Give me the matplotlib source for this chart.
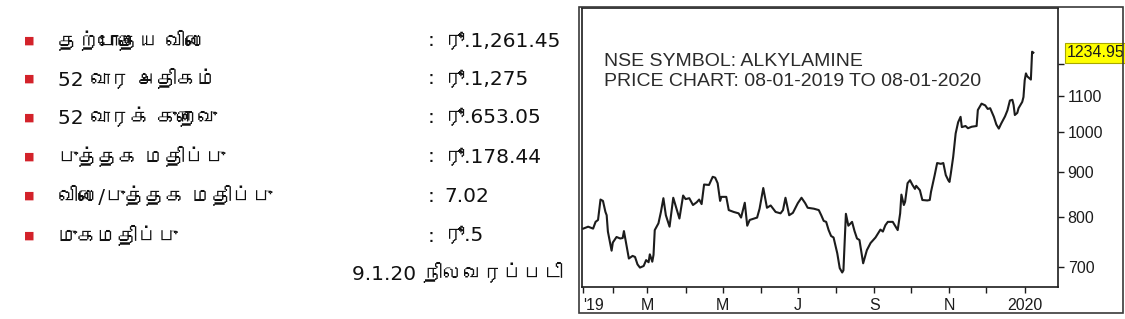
import matplotlib
matplotlib.use("Agg")
import matplotlib.pyplot as plt
import matplotlib.dates as mdates
import matplotlib.transforms as mtransforms
from matplotlib import font_manager, ft2font
from matplotlib.patches import Rectangle
from matplotlib.ticker import FixedLocator, NullLocator

# ---- left panel (Tamil key figures) ----
row_labels = [
    "தற்போதைய விலை",
    "52 வார அதிகம்",
    "52 வாரக் குறைவு",
    "புத்தக மதிப்பு",
    "விலை/புத்தக மதிப்பு",
    "முகமதிப்பு",
]
row_values = ["ரூ.1,261.45", "ரூ.1,275", "ரூ.653.05", "ரூ.178.44", "7.02", "ரூ.5"]
as_of_text = "9.1.20 நிலவரப்படி"

# ---- price chart ----
title_lines = ["NSE SYMBOL: ALKYLAMINE", "PRICE CHART: 08-01-2019 TO 08-01-2020"]
last_price = 1234.95

price_dates = [
    "2019-01-08", "2019-01-12", "2019-01-16", "2019-01-18", "2019-01-20", "2019-01-22",
    "2019-01-24", "2019-01-26", "2019-01-27", "2019-01-28", "2019-01-31", "2019-02-01",
    "2019-02-04", "2019-02-07", "2019-02-09", "2019-02-10", "2019-02-12", "2019-02-14",
    "2019-02-17", "2019-02-19", "2019-02-21", "2019-02-23", "2019-02-26", "2019-02-28",
    "2019-03-02", "2019-03-03", "2019-03-05", "2019-03-06", "2019-03-07", "2019-03-10",
    "2019-03-12", "2019-03-14", "2019-03-16", "2019-03-19", "2019-03-22", "2019-03-25",
    "2019-03-27", "2019-03-30", "2019-04-01", "2019-04-04", "2019-04-07", "2019-04-10",
    "2019-04-12", "2019-04-14", "2019-04-16", "2019-04-20", "2019-04-23", "2019-04-25",
    "2019-04-27", "2019-04-29", "2019-04-30", "2019-05-04", "2019-05-06", "2019-05-10",
    "2019-05-14", "2019-05-16", "2019-05-19", "2019-05-21", "2019-05-23", "2019-05-29",
    "2019-05-31", "2019-06-03", "2019-06-06", "2019-06-09", "2019-06-13", "2019-06-17",
    "2019-06-19", "2019-06-21", "2019-06-24", "2019-06-27", "2019-07-01", "2019-07-04",
    "2019-07-07", "2019-07-09", "2019-07-14", "2019-07-18", "2019-07-20", "2019-07-22",
    "2019-07-24", "2019-07-26", "2019-07-28", "2019-07-30", "2019-08-02", "2019-08-04",
    "2019-08-06", "2019-08-07", "2019-08-09", "2019-08-11", "2019-08-14", "2019-08-16",
    "2019-08-18", "2019-08-20", "2019-08-23", "2019-08-24", "2019-08-26", "2019-08-29",
    "2019-09-02", "2019-09-04", "2019-09-06", "2019-09-08", "2019-09-10", "2019-09-12",
    "2019-09-16", "2019-09-19", "2019-09-20", "2019-09-22", "2019-09-23", "2019-09-25",
    "2019-09-26", "2019-09-28", "2019-09-30", "2019-10-02", "2019-10-04", "2019-10-05",
    "2019-10-08", "2019-10-10", "2019-10-14", "2019-10-16", "2019-10-17", "2019-10-20",
    "2019-10-22", "2019-10-25", "2019-10-27", "2019-10-29", "2019-10-31", "2019-11-01",
    "2019-11-02", "2019-11-04", "2019-11-06", "2019-11-08", "2019-11-10", "2019-11-11",
    "2019-11-14", "2019-11-16", "2019-11-19", "2019-11-23", "2019-11-24", "2019-11-27",
    "2019-11-30", "2019-12-02", "2019-12-04", "2019-12-07", "2019-12-09", "2019-12-11",
    "2019-12-13", "2019-12-16", "2019-12-18", "2019-12-20", "2019-12-22", "2019-12-23",
    "2019-12-24", "2019-12-26", "2019-12-27", "2019-12-30", "2019-12-31", "2020-01-01",
    "2020-01-02", "2020-01-03", "2020-01-06", "2020-01-07", "2020-01-08",
]
prices = [
    775, 779, 775, 789, 793, 837,
    834, 810, 803, 769, 731, 747,
    758, 755, 756, 770, 742, 716,
    721, 719, 705, 699, 702, 713,
    709, 724, 710, 723, 772, 786,
    810, 840, 803, 779, 841, 814,
    796, 846, 838, 840, 825, 831,
    837, 827, 871, 870, 889, 887,
    874, 834, 843, 843, 814, 810,
    807, 798, 830, 781, 793, 798,
    817, 863, 819, 824, 810, 807,
    814, 841, 803, 808, 829, 841,
    829, 819, 817, 814, 803, 791,
    789, 772, 760, 757, 726, 698,
    690, 694, 806, 781, 789, 770,
    755, 752, 707, 715, 732, 746,
    757, 765, 773, 769, 782, 789,
    789, 776, 772, 807, 848, 825,
    832, 874, 881, 870, 861, 868,
    858, 836, 835, 836, 854, 893,
    922, 920, 922, 893, 881, 877,
    895, 937, 997, 1027, 1042, 1014,
    1017, 1011, 1015, 1017, 1061, 1079,
    1074, 1064, 1066, 1042, 1021, 1010,
    1024, 1043, 1060, 1088, 1090, 1075,
    1047, 1053, 1066, 1084, 1098, 1148,
    1169, 1160, 1150, 1238, 1235,
]

y_ticks = [700, 800, 900, 1000, 1100, 1200]
y_tick_labels = ["700", "800", "900", "1000", "1100", ""]
x_major = ["2019-01-08", "2019-03-01", "2019-05-01", "2019-07-01",
           "2019-09-01", "2019-11-01", "2020-01-01"]
x_major_labels = ["'19", "M", "M", "J", "S", "N", "2020"]
x_minor = ["2019-02-01", "2019-04-01", "2019-06-01", "2019-08-01",
           "2019-10-01", "2019-12-01"]


def find_tamil_font():
    # matplotlib has no Tamil face by default; look for any installed one
    seen = set()
    for f in font_manager.fontManager.ttflist:
        if f.fname in seen:
            continue
        seen.add(f.fname)
        try:
            cmap = ft2font.FT2Font(f.fname).get_charmap()
        except Exception:
            continue
        if 0x0BA4 in cmap and 0x0BC8 in cmap:
            return f.name
    return None


tamil = find_tamil_font()
# DejaVu digits are close in width to the ones in the reference
text_family = ["DejaVu Sans"] + ([tamil] if tamil else [])
plt.rcParams["font.family"] = ["Liberation Sans", "DejaVu Sans"]

W, H = 1125, 319
fig = plt.figure(figsize=(W / 100, H / 100), dpi=100)
fig.patch.set_facecolor("white")

# left list
row_y = [41, 79, 118, 157, 196, 236]
for y, lab, val in zip(row_y, row_labels, row_values):
    fy = 1 - y / H
    fig.text(29 / W, fy, "■", color="#d3222a", fontsize=8, ha="center",
             va="center", family="DejaVu Sans")
    fig.text(58 / W, fy, lab, fontsize=14.5, va="center", color="#111111",
             family=text_family)
    fig.text(428 / W, fy, ":", fontsize=14.5, va="center", color="#111111",
             family=text_family)
    fig.text(444 / W, fy, val, fontsize=14.5, va="center", color="#111111",
             family=text_family)
fig.text(563 / W, 1 - 273 / H, as_of_text, fontsize=14.5, va="center", ha="right",
         color="#111111", family=text_family)

# chart outer frame
fig.add_artist(Rectangle((579 / W, 1 - 313 / H), (1123 - 579) / W, (313 - 7) / H,
                         transform=fig.transFigure, fill=False,
                         edgecolor="#3a3a3a", lw=1.2))

ax = fig.add_axes([582 / W, 1 - 287 / H, 476 / W, 279 / H])
ax.plot(mdates.datestr2num(price_dates), prices, color="#1c1c1c", lw=1.5)

ax.set_yscale("log")
ax.set_ylim(664, 1390)
ax.set_xlim(mdates.datestr2num("2019-01-07"), mdates.datestr2num("2020-01-28"))

ax.yaxis.tick_right()
ax.yaxis.set_major_locator(FixedLocator(y_ticks))
ax.yaxis.set_minor_locator(NullLocator())
ax.set_yticklabels(y_tick_labels)

ax.set_xticks(mdates.datestr2num(x_major))
ax.set_xticklabels(x_major_labels)
ax.set_xticks(mdates.datestr2num(x_minor), minor=True)
ax.get_xticklabels()[0].set_ha("left")

ax.tick_params(axis="both", which="both", direction="out", length=4, width=1,
               labelsize=11.5, colors="#1c1c1c")
ax.tick_params(axis="x", pad=4)
ax.tick_params(axis="y", pad=3)
for sp in ax.spines.values():
    sp.set_color("#1c1c1c")
    sp.set_linewidth(1.2)

ax.text(0.046, 0.792, title_lines[0], transform=ax.transAxes, fontsize=14,
        color="#2b2b2b", va="baseline")
ax.text(0.046, 0.720, title_lines[1], transform=ax.transAxes, fontsize=14,
        color="#2b2b2b", va="baseline")

trans = mtransforms.blended_transform_factory(ax.transAxes, ax.transData)
ax.text(1.019, last_price, f"{last_price:.2f}", transform=trans, fontsize=11.5,
        va="center", ha="left", clip_on=False, color="#1c1c1c",
        bbox=dict(boxstyle="square,pad=0.15", fc="#ffff00", ec="#a8a800", lw=0.8))

fig.savefig("out.png", dpi=100)
